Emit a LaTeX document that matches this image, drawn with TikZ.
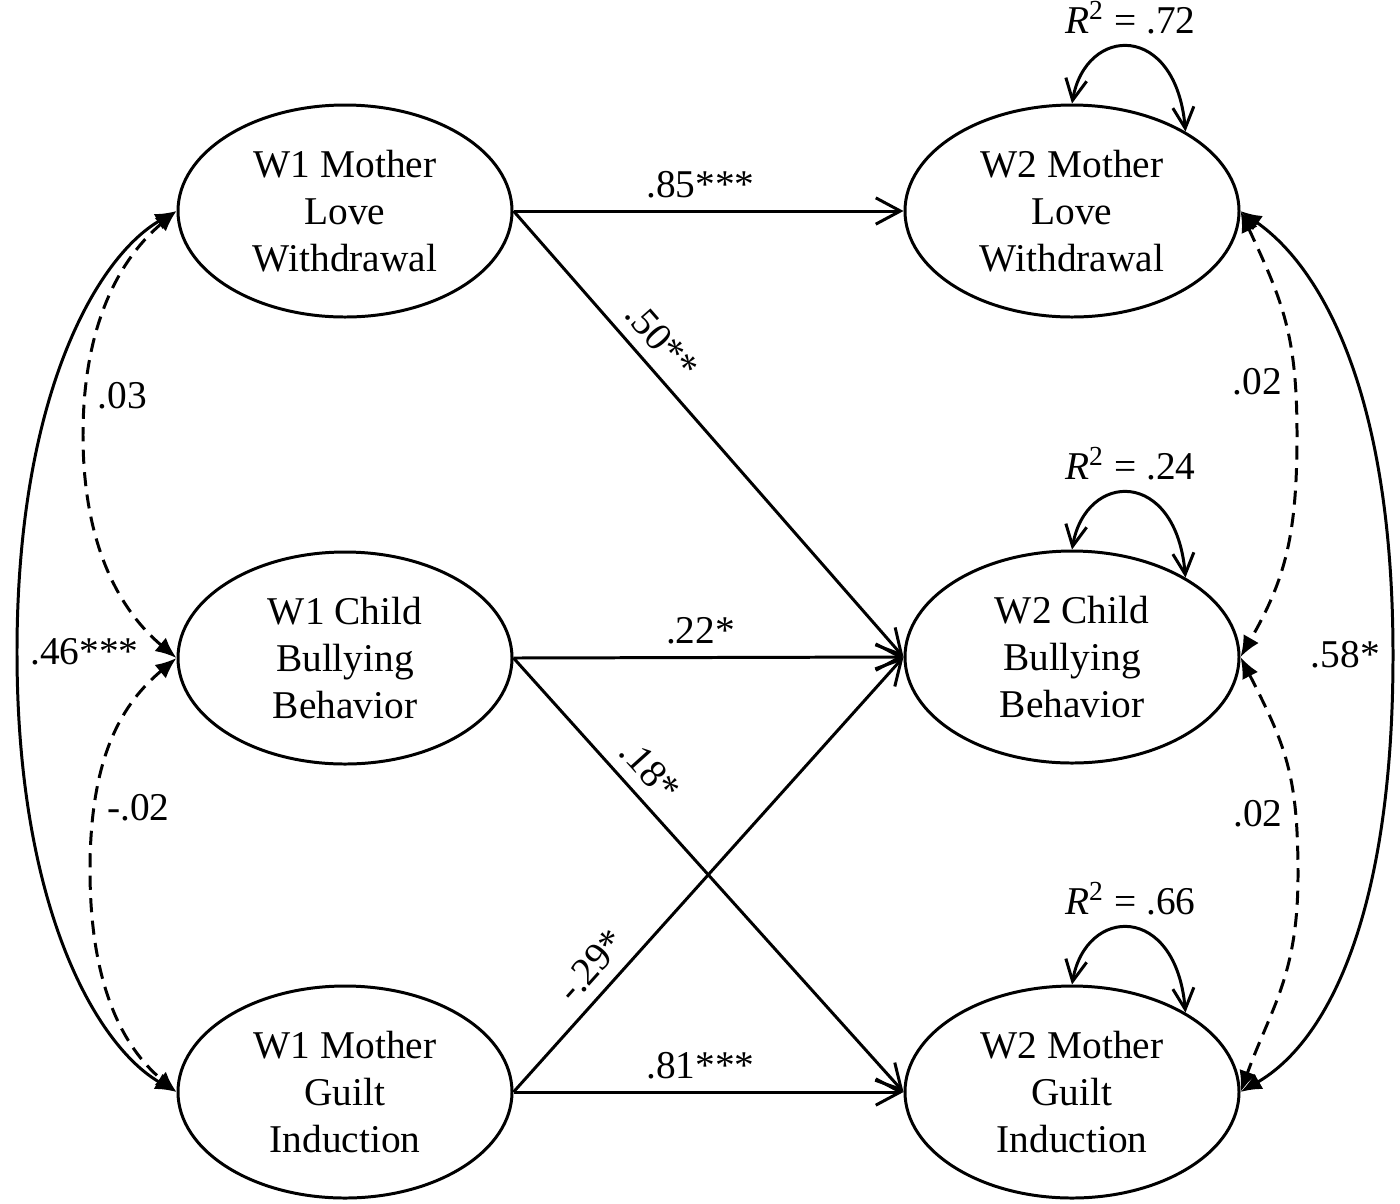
\documentclass[tikz,border=0pt]{standalone}
\usepackage{fontspec}
\setmainfont{Liberation Serif}
\usetikzlibrary{shapes.geometric,arrows.meta}

\begin{document}
\begin{tikzpicture}[line join=round,line width=0.85pt,font=\fontsize{11.2}{13.4}\selectfont,
	latent/.style={draw,ellipse,minimum width=3.34cm,minimum height=2.12cm,inner sep=0pt,align=center},
	path/.style={-{Straight Barb[length=7pt,width=7.5pt]}},
	cov/.style={{Latex[length=6pt,width=5pt]}-{Latex[length=6pt,width=5pt]}},
	dcov/.style={cov,dash pattern=on 4pt off 2.4pt},
	resid/.style={{Straight Barb[length=6pt,width=6pt]}-{Straight Barb[length=6pt,width=6pt]}}]
	\useasboundingbox (0,0) rectangle (14,-12.03);
	%%%%%%%%%%%%%%%
	\node[latent] (mlw1) at (3.45,-2.11) {W1 Mother\\Love\\Withdrawal};
	\node[latent] (cbb1) at (3.45,-6.58) {W1 Child\\Bullying\\Behavior};
	\node[latent] (mgi1) at (3.45,-10.92) {W1 Mother\\Guilt\\Induction};
	\node[latent] (mlw2) at (10.72,-2.11) {W2 Mother\\Love\\Withdrawal};
	\node[latent] (cbb2) at (10.72,-6.57) {W2 Child\\Bullying\\Behavior};
	\node[latent] (mgi2) at (10.72,-10.92) {W2 Mother\\Guilt\\Induction};
	%%%%%%%%%%%%%%%
	\draw[path] (mlw1.east) -- node[above,xshift=-0.08cm] (p85) {.85***} (mlw2.west);
	\draw[path] (mlw1.east) -- node[above,sloped,pos=0.33] (p50) {.50**} (cbb2.west);
	\draw[path] (cbb1.east) -- node[above,xshift=-0.08cm] (p22) {.22*} (cbb2.west);
	\draw[path] (cbb1.east) -- node[above,sloped,pos=0.30] (p18) {.18*} (mgi2.west);
	\draw[path] (mgi1.east) -- node[above,sloped,pos=0.25] (p29) {-.29*} (cbb2.west);
	\draw[path] (mgi1.east) -- node[above,xshift=-0.08cm] (p81) {.81***} (mgi2.west);
	%%%%%%%%%%%%%%%
	\draw[cov] (mlw1.west) ..controls +(-150:0.9) and +(90:2.6).. (0.17,-6.52) node[right] (c46) {.46***}
	..controls +(-90:2.6) and +(150:0.9).. (mgi1.west);
	\draw[dcov] (mlw1.west) ..controls +(-140:0.7) and +(90:1.15).. (0.83,-4.35) node[right,pos=0.88] (c03) {.03}
	..controls +(-90:1.15) and +(140:0.7).. (cbb1.west);
	\draw[dcov] (cbb1.west) ..controls +(-140:0.7) and +(90:1.15).. (0.9,-8.7) node[right,pos=0.8] (c02) {-.02}
	..controls +(-90:1.15) and +(140:0.7).. (mgi1.west);
	%%%%%%%%%%%%%%%
	\draw[cov] (mlw2.east) ..controls +(-35:1.0) and +(90:2.6).. (13.93,-6.55) node[left] (c58) {.58*}
	..controls +(-90:2.6) and +(30:1.0).. (mgi2.east);
	\draw[dcov] (mlw2.east) ..controls +(-65:1.0) and +(90:1.0).. (12.97,-4.35) node[left,pos=0.8] (d02a) {.02}
	..controls +(-90:1.0) and +(60:0.9).. (cbb2.east);
	\draw[dcov] (cbb2.east) ..controls +(-63:1.0) and +(90:1.0).. (12.98,-8.75) node[left,pos=0.76] (d02b) {.02}
	..controls +(-90:1.0) and +(70:0.9).. (mgi2.east);
	%%%%%%%%%%%%%%%
	\foreach \n/\r in {mlw2/.72,cbb2/.24,mgi2/.66}
	\draw[resid] (\n.90) ..controls +(80:0.8) and +(95:1.1).. (\n.35) node[above,pos=0.5] (r\n) {\textit{R}\textsuperscript{2} = \r};
\end{tikzpicture}
\end{document}
